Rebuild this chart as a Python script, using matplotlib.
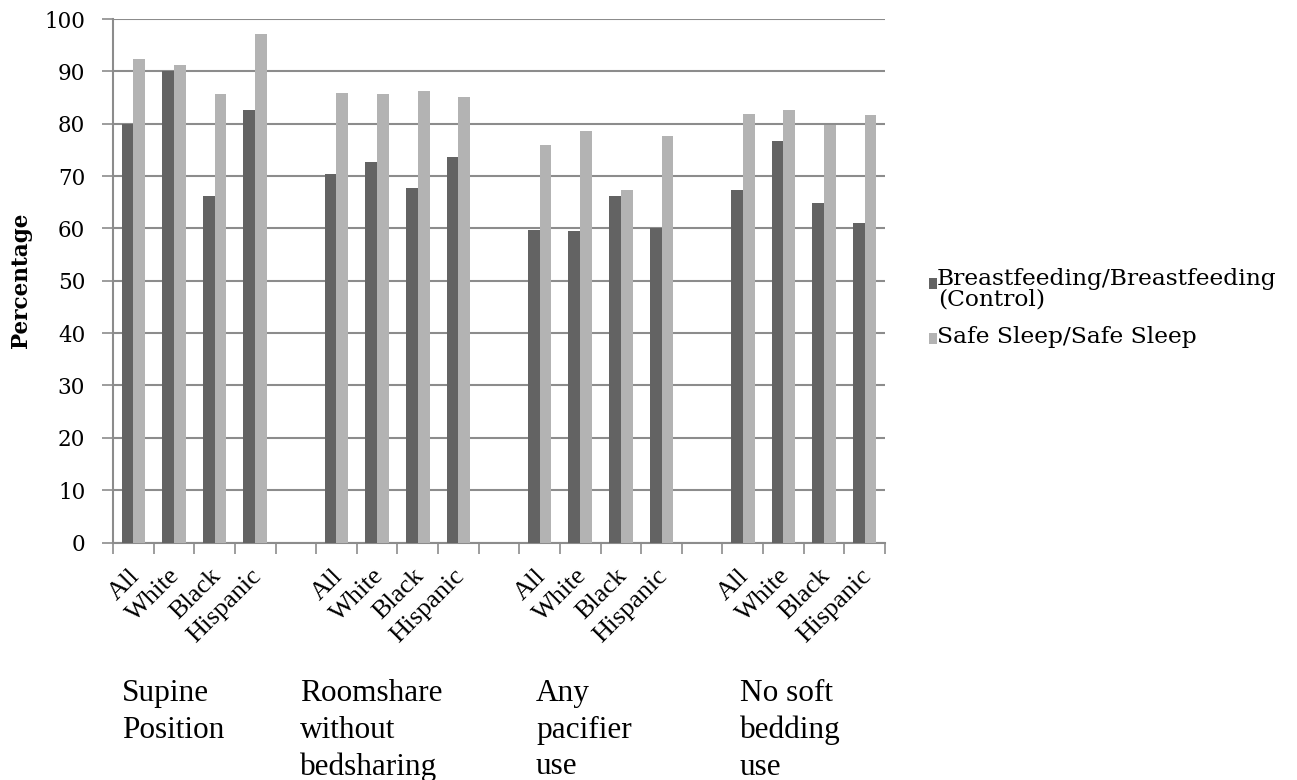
import matplotlib
matplotlib.use("Agg")
import matplotlib.pyplot as plt
import matplotlib.transforms as mtransforms
import numpy as np

subgroups = ["All", "White", "Black", "Hispanic"]
measures = ["Supine\nPosition", "Roomshare\nwithout\nbedsharing", "Any\npacifier\nuse", "No soft\nbedding\nuse"]
control = [80.0, 90.0, 66.1, 82.7,
           70.3, 72.6, 67.8, 73.6,
           59.6, 59.5, 66.1, 60.0,
           67.4, 76.6, 64.8, 61.1]
safe_sleep = [92.4, 91.2, 85.6, 97.1,
              85.8, 85.6, 86.3, 85.1,
              76.0, 78.6, 67.4, 77.7,
              81.8, 82.7, 79.8, 81.7]
series_names = ["Breastfeeding/Breastfeeding\n(Control)", "Safe Sleep/Safe Sleep"]
colors = ["#636363", "#b3b3b3"]

fig = plt.figure(figsize=(12.97, 7.8), dpi=100)
ax = fig.add_axes([113/1297, 1-542.5/780, (885-113)/1297, (542.5-19)/780])

pos = []
labels = []
for g in range(len(measures)):
    for s, name in enumerate(subgroups):
        pos.append(g*5 + s)
        labels.append(name)
pos = np.array(pos, dtype=float)
w = 0.29
b1 = ax.bar(pos - w/2, control, width=w, color=colors[0], zorder=3)
b2 = ax.bar(pos + w/2, safe_sleep, width=w, color=colors[1], zorder=3)

ncat = len(measures)*5 - 1
ax.set_xlim(-0.5, ncat - 0.5)
ax.set_ylim(0, 100)
ax.set_yticks(np.arange(0, 101, 10))
ax.yaxis.grid(True, color="#8c8c8c", linewidth=1.5, zorder=0)
ax.set_axisbelow(True)

ax.set_xticks(pos)
ax.set_xticklabels(labels, rotation=45, ha="right", va="top", rotation_mode="anchor",
                   family="Liberation Serif", fontsize=19)
ax.tick_params(axis="x", length=0, pad=16)
offset = mtransforms.ScaledTranslation(-5/100, 0, fig.dpi_scale_trans)
for t in ax.get_xticklabels():
    t.set_transform(t.get_transform() + offset)
ax.set_xticks(np.arange(-0.5, ncat, 1.0), minor=True)
ax.tick_params(axis="x", which="minor", length=8, color="#8c8c8c", width=1.2, direction="out")
ax.tick_params(axis="y", length=8, color="#8c8c8c", width=1.2, pad=12)
for t in ax.get_yticklabels():
    t.set_family("DejaVu Serif")
    t.set_fontsize(15.5)

for sp in ["top", "right"]:
    ax.spines[sp].set_visible(False)
for sp in ["left", "bottom"]:
    ax.spines[sp].set_color("#8c8c8c")
    ax.spines[sp].set_linewidth(1.5)

ax.set_ylabel("Percentage", family="DejaVu Serif", fontweight="bold", fontsize=15.5, labelpad=9)

group_x = [122, 300, 536, 740]
for gx, m in zip(group_x, measures):
    fig.text(gx/1297, 1-679/780, m, ha="left", va="top", family="Liberation Serif",
             fontsize=22.5, linespacing=1.35)

# legend: marker aligned with the first line of a wrapped label
lfs = 16.8
first, _, rest = series_names[0].partition("\n")
common = dict(frameon=False, prop={"family": "DejaVu Serif", "size": lfs},
              handlelength=0.35, handleheight=0.35, handletextpad=0.0,
              borderpad=0, borderaxespad=0, loc="lower left")
leg1 = fig.legend([b1], [first], bbox_to_anchor=(929/1297, 1-290.5/780), **common)
fig.text(938/1297, 1-306/780, rest, ha="left", va="baseline", family="DejaVu Serif", fontsize=lfs)
leg2 = fig.legend([b2], [series_names[1]], bbox_to_anchor=(929/1297, 1-347.5/780), **common)
for lg, dy in ((leg1, 4.3), (leg2, 3.0)):
    for h in lg.legend_handles:
        h.set_y(h.get_y() - dy)

fig.savefig("out.png", dpi=100)
